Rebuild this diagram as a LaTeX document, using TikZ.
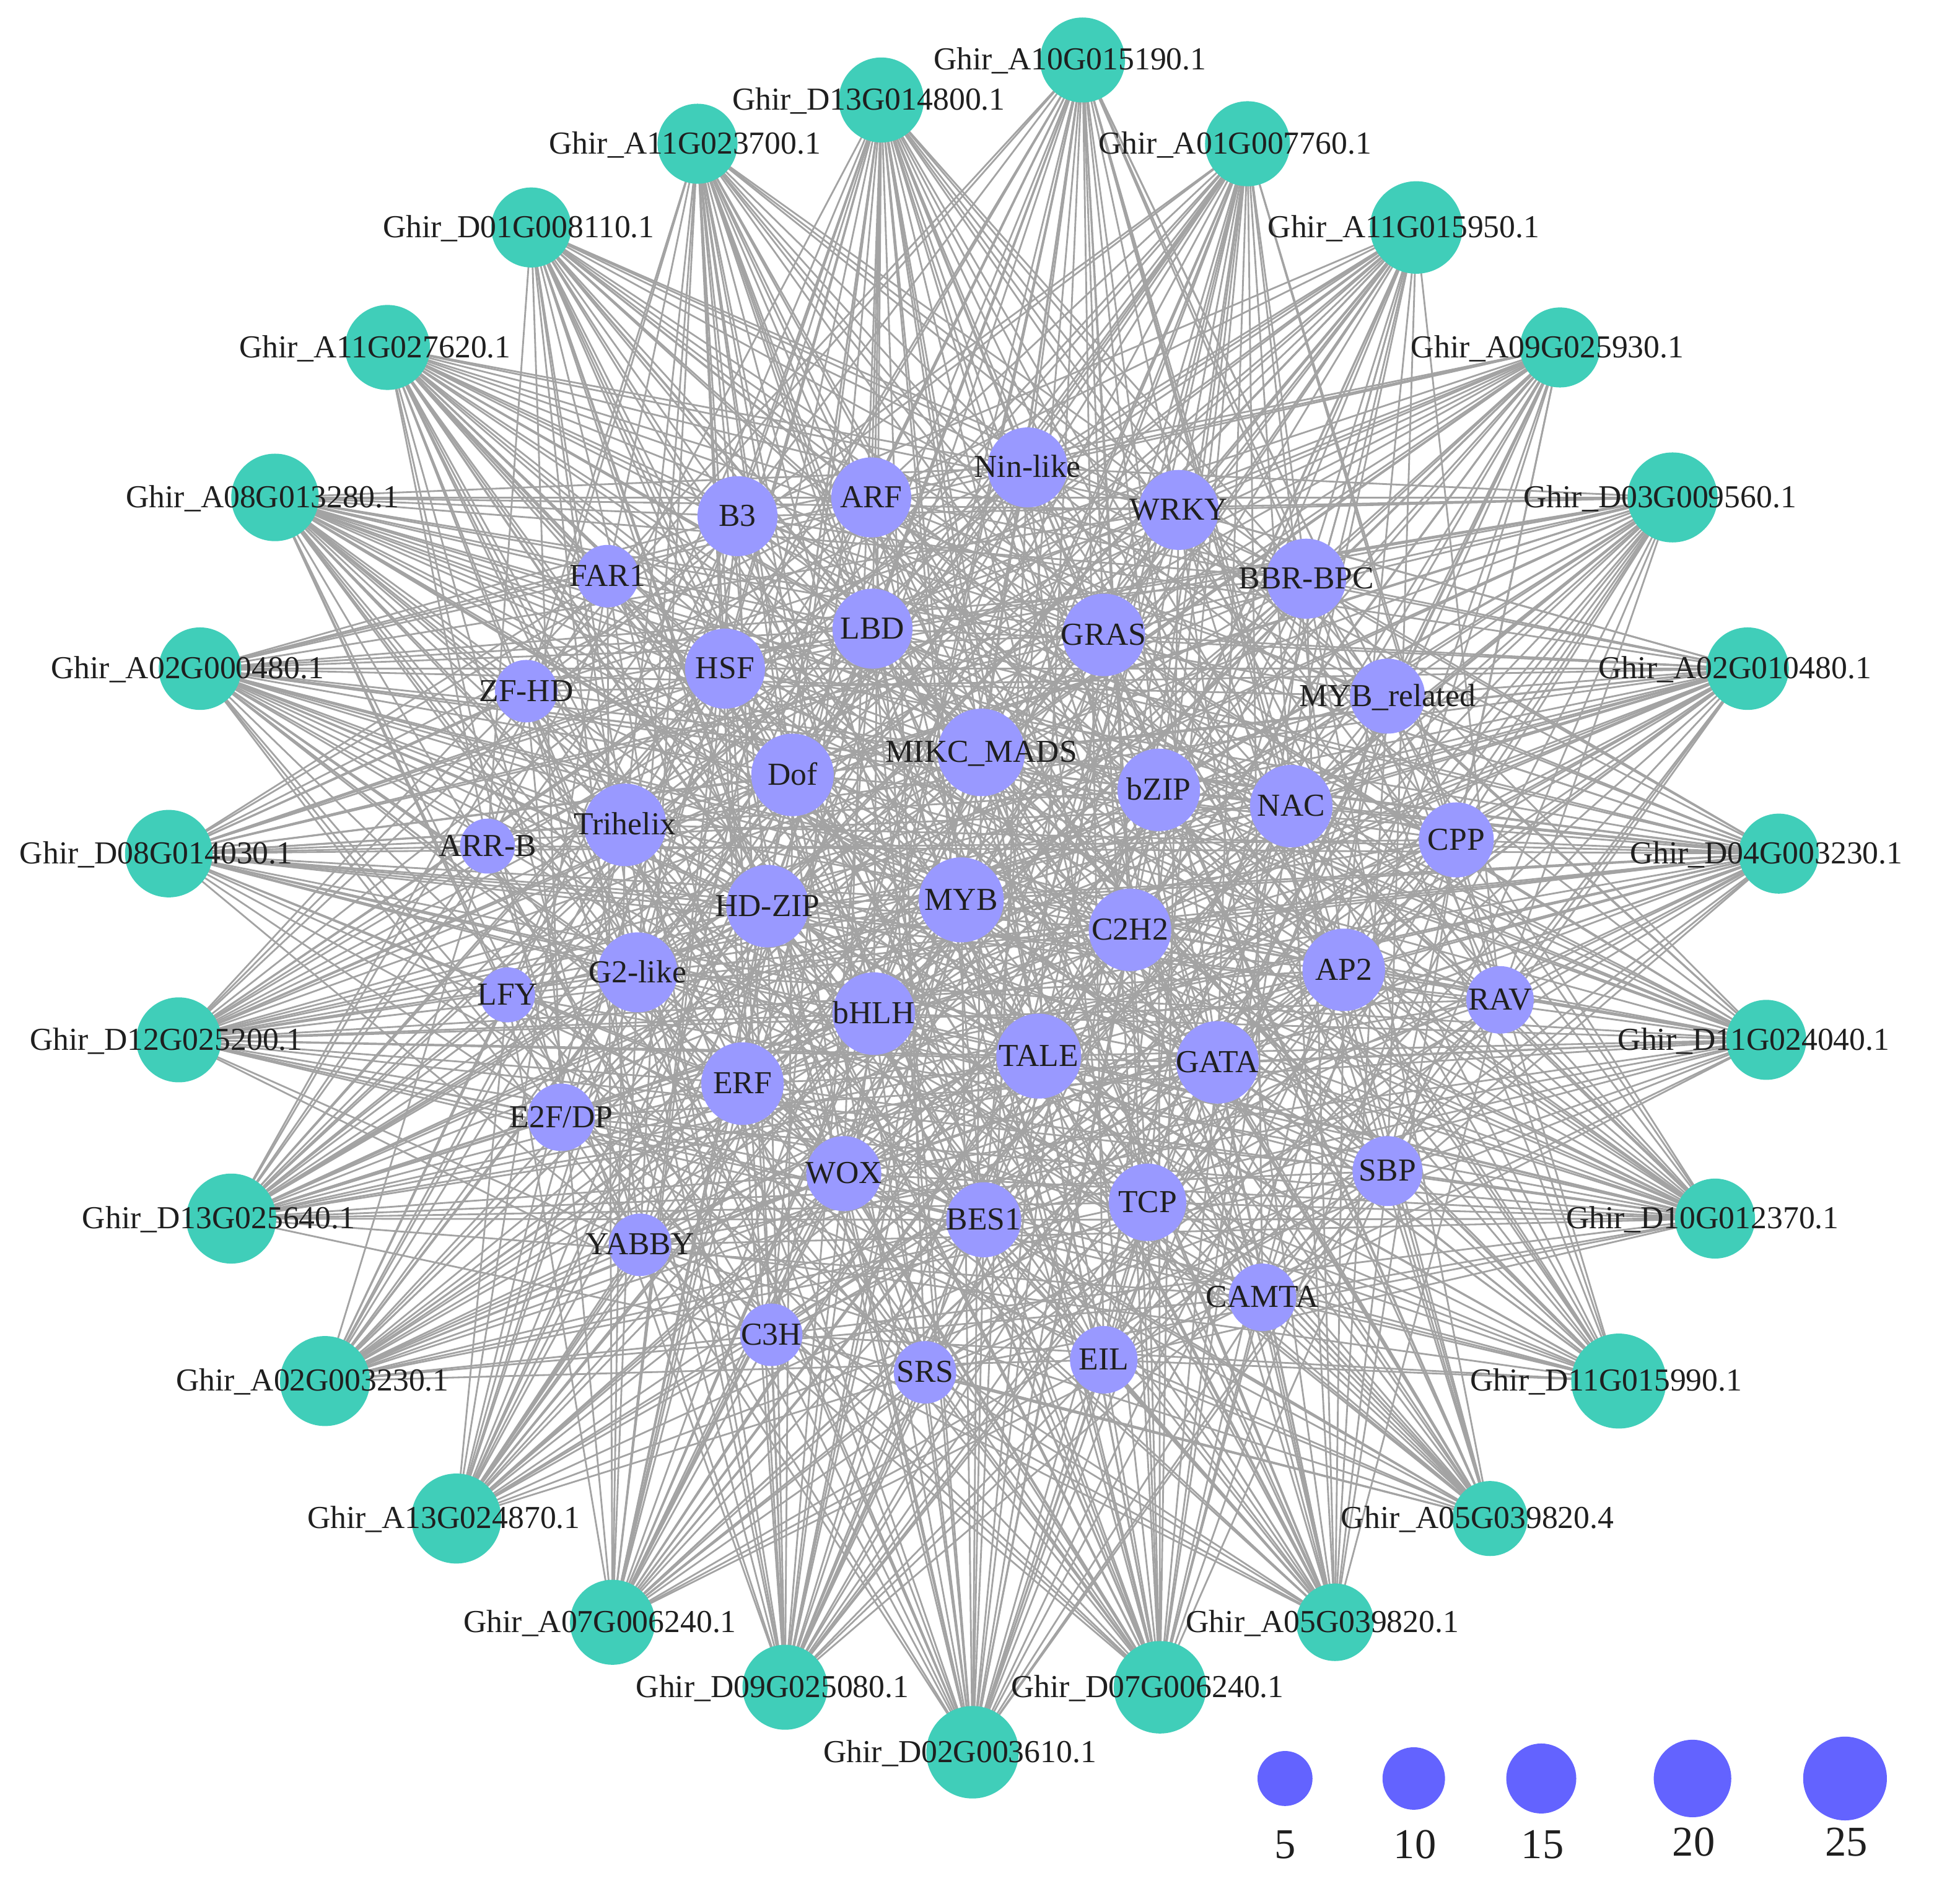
\documentclass[tikz,border=0pt]{standalone}
\usepackage{fontspec}
\setmainfont{Liberation Serif}
\pgfdeclarelayer{bg}
\pgfsetlayers{bg,main}
\definecolor{gnode}{RGB}{64,206,185}
\definecolor{tnode}{RGB}{153,153,255}
\definecolor{lnode}{RGB}{99,99,255}
\definecolor{edgec}{RGB}{163,163,163}
\tikzset{
  gene/.style={circle, fill=gnode, inner sep=0pt},
  tf/.style={circle, fill=tnode, inner sep=0pt},
  lab/.style={font=\fontsize{25.6}{28}\selectfont, text=black!88, inner sep=0pt, anchor=base},
  link/.style={draw=edgec, line width=1.4pt},
  leg/.style={circle, fill=lnode, inner sep=0pt},
  legl/.style={font=\fontsize{34}{36}\selectfont, text=black!88, inner sep=0pt, anchor=base}
}
\def\genelist{866/48/34/Ghir\_A10G015190.1,
705/80/34/Ghir\_D13G014800.1,
558/115/32/Ghir\_A11G023700.1,
998/115/34/Ghir\_A01G007760.1,
425/182/32/Ghir\_D01G008110.1,
1133/182/37/Ghir\_A11G015950.1,
310/278/34/Ghir\_A11G027620.1,
1248/278/32/Ghir\_A09G025930.1,
220/398/35/Ghir\_A08G013280.1,
1338/398/36/Ghir\_D03G009560.1,
160/535/33/Ghir\_A02G000480.1,
1398/535/33/Ghir\_A02G010480.1,
135/683/35/Ghir\_D08G014030.1,
1423/683/32/Ghir\_D04G003230.1,
143/832/34/Ghir\_D12G025200.1,
1413/832/32/Ghir\_D11G024040.1,
185/975/36/Ghir\_D13G025640.1,
1372/975/32/Ghir\_D10G012370.1,
260/1105/36/Ghir\_A02G003230.1,
1295/1105/38/Ghir\_D11G015990.1,
365/1215/36/Ghir\_A13G024870.1,
1192/1215/30/Ghir\_A05G039820.4,
490/1298/34/Ghir\_A07G006240.1,
1068/1298/31/Ghir\_A05G039820.1,
628/1350/34/Ghir\_D09G025080.1,
928/1350/37/Ghir\_D07G006240.1,
778/1402/37/Ghir\_D02G003610.1}
\def\tflist{822/374/32/Nin-like,
697/398/32/ARF,
590/413/32/B3,
943/408/32/WRKY,
486/461/25/FAR1,
1045/463/32/BBR-BPC,
698/503/32/LBD,
883/508/33/GRAS,
580/535/32/HSF,
421/553/25/ZF-HD,
1110/557/30/MYB\_related,
785/602/35/MIKC\_MADS,
634/620/33/Dof,
927/632/33/bZIP,
1033/645/33/NAC,
1165/672/30/CPP,
500/660/33/Trihelix,
390/677/22/ARR-B,
614/725/33/HD-ZIP,
769/720/34/MYB,
904/744/33/C2H2,
1075/776/33/AP2,
1200/800/27/RAV,
510/778/32/G2-like,
406/796/22/LFY,
699/811/33/bHLH,
831/845/34/TALE,
974/850/33/GATA,
594/867/33/ERF,
449/894/27/{E2F/DP},
675/939/30/WOX,
787/976/30/BES1,
918/962/31/TCP,
1110/937/28/SBP,
512/996/25/YABBY,
1010/1038/27/CAMTA,
617/1068/25/C3H,
883/1088/27/EIL,
740/1098/25/SRS}
\begin{document}
\begin{tikzpicture}[x=1pt,y=-1pt]
\useasboundingbox (0,0) rectangle (1568,1509);
% gene nodes
\foreach \x/\y/\r/\t [count=\i] in \genelist {
  \node[gene, minimum size={2*\r*1pt}] (g\i) at (\x,\y) {};
}
% TF nodes
\foreach \x/\y/\r/\t [count=\j] in \tflist {
  \node[tf, minimum size={2*\r*1pt}] (t\j) at (\x,\y) {};
}
% labels
\foreach \x/\y/\r/\t [count=\i] in \genelist {
  \node[lab] (gl\i) at (\x-10,\y+8) {\t};
}
\foreach \x/\y/\r/\t [count=\j] in \tflist {
  \node[lab] (tl\j) at (\x,\y+8) {\t};
}
% edges
\begin{pgfonlayer}{bg}
\pgfmathsetseed{4242}
\foreach \x/\y/\r/\t [count=\j] in \tflist {
  \foreach \i in {1,...,27} {
    \pgfmathtruncatemacro\ok{(rnd*27) < (15+(\r-22)*12/11)}
    \ifnum\ok=1 \draw[link] (g\i.center) -- (t\j.center);\fi
  }
}
\end{pgfonlayer}
% legend
\node[leg, minimum size=44pt] (l1) at (1028,1423) {};
\node[leg, minimum size=50pt] (l2) at (1131,1423) {};
\node[leg, minimum size=56pt] (l3) at (1233,1423) {};
\node[leg, minimum size=62pt] (l4) at (1354,1423) {};
\node[leg, minimum size=67pt] (l5) at (1476,1423) {};
\node[legl] (n1) at (1028,1487) {5};
\node[legl] (n2) at (1132,1487) {10};
\node[legl] (n3) at (1234,1487) {15};
\node[legl] (n4) at (1355,1485) {20};
\node[legl] (n5) at (1477,1485) {25};
\end{tikzpicture}
\end{document}
